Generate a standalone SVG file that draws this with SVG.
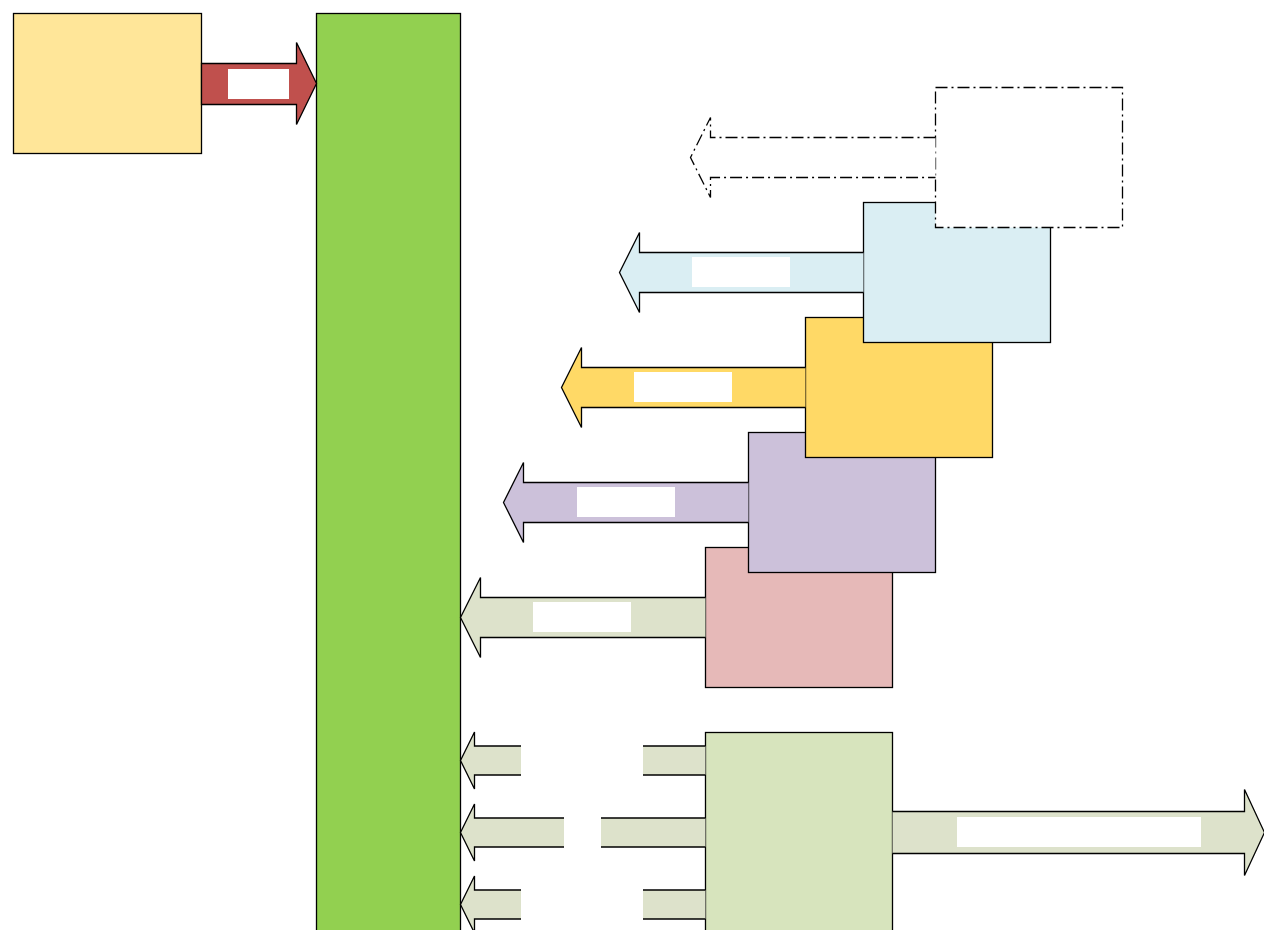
<svg xmlns="http://www.w3.org/2000/svg" width="1264" height="930" viewBox="0 0 1264 930">
<style>
.s{stroke:#000;stroke-width:1.3;stroke-linejoin:miter}
.lbl{fill:#fff;stroke:none}
.dd{fill:#fff;stroke:#000;stroke-width:1.3;stroke-dasharray:12 4 2 4}
.olive{fill:#DDE2CB}
</style>
<rect width="1264" height="930" fill="#fff"/>
<g id="source"><rect class="s" x="13.5" y="13.5" width="188" height="140" fill="#FFE699"/></g>
<g id="bus"><rect class="s" x="316.5" y="13.5" width="144" height="930" fill="#92D050"/></g>
<g id="box-pink"><rect class="s" x="705.5" y="547.5" width="187" height="140" fill="#E6B9B8"/></g>
<g id="box-purple"><rect class="s" x="748.5" y="432.5" width="187" height="140" fill="#CCC1DA"/></g>
<g id="box-yellow"><rect class="s" x="805.5" y="317.5" width="187" height="140" fill="#FFD966"/></g>
<g id="box-blue"><rect class="s" x="863.5" y="202.5" width="187" height="140" fill="#DAEEF3"/></g>
<g id="box-dashed"><rect class="dd" x="935.5" y="87.5" width="187" height="140"/></g>
<g id="box-green"><rect class="s" x="705.5" y="732.5" width="187" height="210" fill="#D7E4BD"/></g>
<g id="connectors">
<path class="s" fill="#C0504D" d="M201.5,63.5 H296.5 V42.5 L316.5,83.5 L296.5,124.5 V104.5 H201.5 Z"/>
<rect class="lbl" x="228" y="69" width="61" height="30"/>
<path class="dd" d="M935.5,137.5 H710.5 V117.5 L690.5,157.5 L710.5,197.5 V177.5 H935.5"/>
<path class="s" fill="#DAEEF3" d="M863.5,252.5 H639.5 V232.5 L619.5,272.5 L639.5,312.5 V292.5 H863.5"/>
<rect class="lbl" x="692" y="257" width="98" height="30"/>
<path class="s" fill="#FFD966" d="M805.5,367.5 H581.5 V347.5 L561.5,387.5 L581.5,427.5 V407.5 H805.5"/>
<rect class="lbl" x="634" y="372" width="98" height="30"/>
<path class="s" fill="#CCC1DA" d="M748.5,482.5 H523.5 V462.5 L503.5,502.5 L523.5,542.5 V522.5 H748.5"/>
<rect class="lbl" x="577" y="487" width="98" height="30"/>
<path class="s olive" d="M705.5,597.5 H480.5 V577.5 L460.5,617.5 L480.5,657.5 V637.5 H705.5"/>
<rect class="lbl" x="533" y="602" width="98" height="30"/>
<path class="s olive" d="M705.5,746 H474.5 V732 L460.5,760.5 L474.5,789 V775 H705.5"/>
<rect class="lbl" x="521" y="745" width="122" height="31"/>
<path class="s olive" d="M705.5,818 H474.5 V804 L460.5,832.5 L474.5,861 V847 H705.5"/>
<rect class="lbl" x="564" y="817" width="37" height="31"/>
<path class="s olive" d="M705.5,890 H474.5 V876 L460.5,904.5 L474.5,933 V919 H705.5"/>
<rect class="lbl" x="521" y="889" width="122" height="31"/>
<path class="s olive" d="M892.5,811.5 H1244.5 V789.5 L1264.5,832.5 L1244.5,875.5 V853.5 H892.5"/>
<rect class="lbl" x="957" y="817" width="244" height="30"/>
</g>
</svg>
